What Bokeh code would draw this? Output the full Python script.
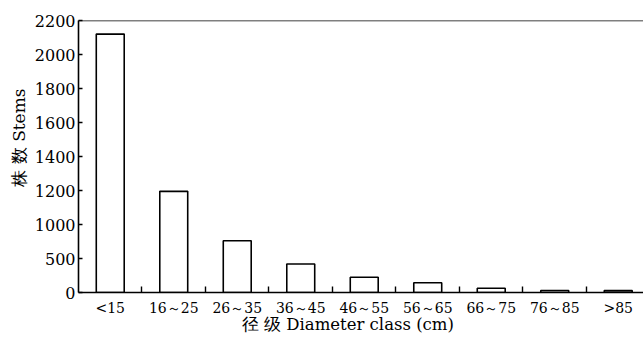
from bokeh.plotting import figure
from bokeh.models import FixedTicker, Span
from bokeh.embed import file_html
from bokeh.resources import INLINE

classes = ["<15", "16～25", "26～35", "36～45", "46～55", "56～65", "66～75", "76～85", ">85"]
stems = [2120, 1195, 760, 420, 225, 143, 63, 30, 28]
y_tick_values = [0, 500, 1000, 1200, 1400, 1600, 1800, 2000, 2200]


def to_axis(v):
    # broken value axis: steps of 500 up to 1000, then steps of 200
    return v / 500.0 if v <= 1000 else 2 + (v - 1000) / 200.0


x = list(range(len(classes)))
top = [to_axis(v) for v in stems]

p = figure(width=643, height=338, x_range=(-0.5, 8.398), y_range=(0, 8),
           output_backend="svg", toolbar_location=None,
           min_border_left=78, min_border_right=0, min_border_top=20, min_border_bottom=46)
p.background_fill_color = "white"
p.border_fill_color = "white"
p.outline_line_color = None
p.xgrid.visible = False
p.ygrid.visible = False

p.vbar(x=x, top=top, bottom=0, width=0.44, fill_color="white",
       line_color="black", line_width=1.6)

p.add_layout(Span(location=8, dimension="width", line_color="black", line_width=1.6))

nb = "\u00a0"
# x axis
xa = p.xaxis[0]
xa.ticker = FixedTicker(ticks=x, minor_ticks=[i + 0.5 for i in range(len(classes) - 1)])
xa.major_label_overrides = {i: c for i, c in enumerate(classes)}
xa.major_tick_line_color = None
xa.major_tick_in = 0
xa.major_tick_out = 0
xa.minor_tick_in = 6
xa.minor_tick_out = 0
xa.minor_tick_line_color = "black"
xa.minor_tick_line_width = 1.4
xa.axis_line_color = "black"
xa.axis_line_width = 1.6
xa.major_label_standoff = 7
xa.major_label_text_font = "DejaVu Serif"
xa.major_label_text_font_size = "14px"
xa.major_label_text_color = "black"
xa.axis_label = "径" + nb + "级" + nb + "Diameter class (cm)" + nb * 5
xa.axis_label_text_font = "DejaVu Serif"
xa.axis_label_text_font_size = "16.5px"
xa.axis_label_text_font_style = "normal"
xa.axis_label_text_color = "black"
xa.axis_label_standoff = -4

# y axis
ya = p.yaxis[0]
ya.ticker = FixedTicker(ticks=[to_axis(v) for v in y_tick_values])
ya.major_label_overrides = {to_axis(v): str(v) for v in y_tick_values}
ya.major_tick_in = 4
ya.major_tick_out = 0
ya.major_tick_line_color = "black"
ya.major_tick_line_width = 1.4
ya.minor_tick_line_color = None
ya.axis_line_color = "black"
ya.axis_line_width = 1.6
ya.major_label_standoff = 3
ya.major_label_text_font = "DejaVu Serif"
ya.major_label_text_font_size = "16px"
ya.major_label_text_color = "black"
ya.axis_label = nb * 7 + "株" + nb + "数" + nb + "Stems"
ya.axis_label_text_font = "DejaVu Serif"
ya.axis_label_text_font_size = "17px"
ya.axis_label_text_font_style = "normal"
ya.axis_label_text_color = "black"
ya.axis_label_standoff = 3

open("out.html", "w").write(file_html(p, INLINE))
